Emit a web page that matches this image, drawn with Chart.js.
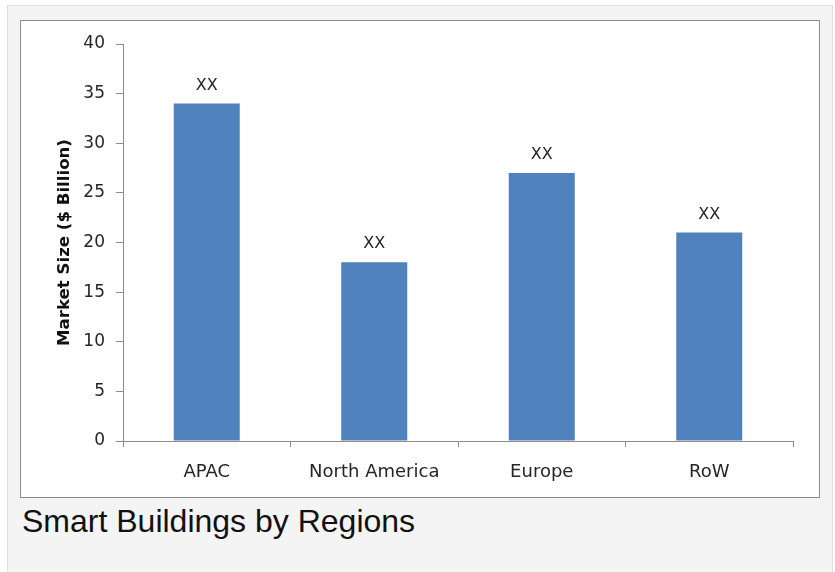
<!DOCTYPE html>
<html>
<head>
<meta charset="utf-8">
<script src="https://cdn.jsdelivr.net/npm/chart.js@4"></script>
<style>
  body { margin:0; background:#fff; width:835px; height:572px; overflow:hidden; position:relative; }
  .moldura { position:absolute; left:7px; top:5px; width:824px; height:580px; background:#f4f4f4; border:1px solid #dedede; }
  .caixa { position:absolute; left:20px; top:20px; width:798px; height:476px; background:#fff; border:1px solid #8c8c8c; }
  .legenda { position:absolute; left:22px; top:505px; font-family:"Liberation Sans", Arial, sans-serif; font-size:32px; line-height:1; color:#111; white-space:nowrap; }
</style>
</head>
<body>
<div class="moldura"></div>
<div class="caixa"><canvas id="grafico" width="798" height="476"></canvas></div>
<div class="legenda">Smart Buildings by Regions</div>
<script>
// dados do grafico
var regioes = ["APAC", "North America", "Europe", "RoW"];
var valores = [34, 18, 27, 21];
var rotulos = ["XX", "XX", "XX", "XX"];
var eixoY = [0, 5, 10, 15, 20, 25, 30, 35, 40];

// escreve os "XX" em cima das barras
var rotuloBarras = {
  id: 'rotuloBarras',
  afterDatasetsDraw: function(chart) {
    var ctx = chart.ctx;
    var barras = chart.getDatasetMeta(0).data;
    ctx.save();
    ctx.font = '16px "DejaVu Sans"';
    ctx.fillStyle = '#262626';
    ctx.textAlign = 'center';
    ctx.textBaseline = 'alphabetic';
    barras.forEach(function(b, i) {
      ctx.fillText(rotulos[i], b.x, b.y - 14);
    });
    ctx.restore();
  }
};

var ctx = document.getElementById("grafico");
var chartGraph = new Chart(ctx, {
  type: 'bar',
  data: {
    labels: regioes,
    datasets: [{
      data: valores,
      backgroundColor: '#4f81bd',
      borderWidth: 0,
      barPercentage: 0.394,
      categoryPercentage: 1
    }]
  },
  options: {
    responsive: false,
    animation: false,
    layout: { padding: { left: 20, top: 23, right: 26, bottom: 0 } },
    plugins: { legend: { display: false }, tooltip: { enabled: false } },
    scales: {
      y: {
        min: 0, max: 40,
        afterBuildTicks: function(s) { s.ticks = eixoY.map(function(v) { return { value: v }; }); },
        afterFit: function(s) { s.width = 82; },
        border: { color: '#8c8c8c', width: 1 },
        grid: { drawOnChartArea: false, tickLength: 7, color: '#8c8c8c' },
        ticks: { color: '#262626', padding: 11, font: { family: 'DejaVu Sans', size: 17 } },
        title: {
          display: true,
          text: 'Market Size ($ Billion)',
          color: '#111',
          padding: { top: 14, bottom: 0 },
          font: { family: 'DejaVu Sans', size: 16.6, weight: 'bold' }
        }
      },
      x: {
        afterFit: function(s) { s.height = 56; },
        border: { color: '#8c8c8c', width: 1 },
        grid: { drawOnChartArea: false, tickLength: 6, color: '#8c8c8c' },
        ticks: { color: '#262626', padding: 15, font: { family: 'DejaVu Sans', size: 18 } }
      }
    }
  },
  plugins: [rotuloBarras]
});
</script>
</body>
</html>
